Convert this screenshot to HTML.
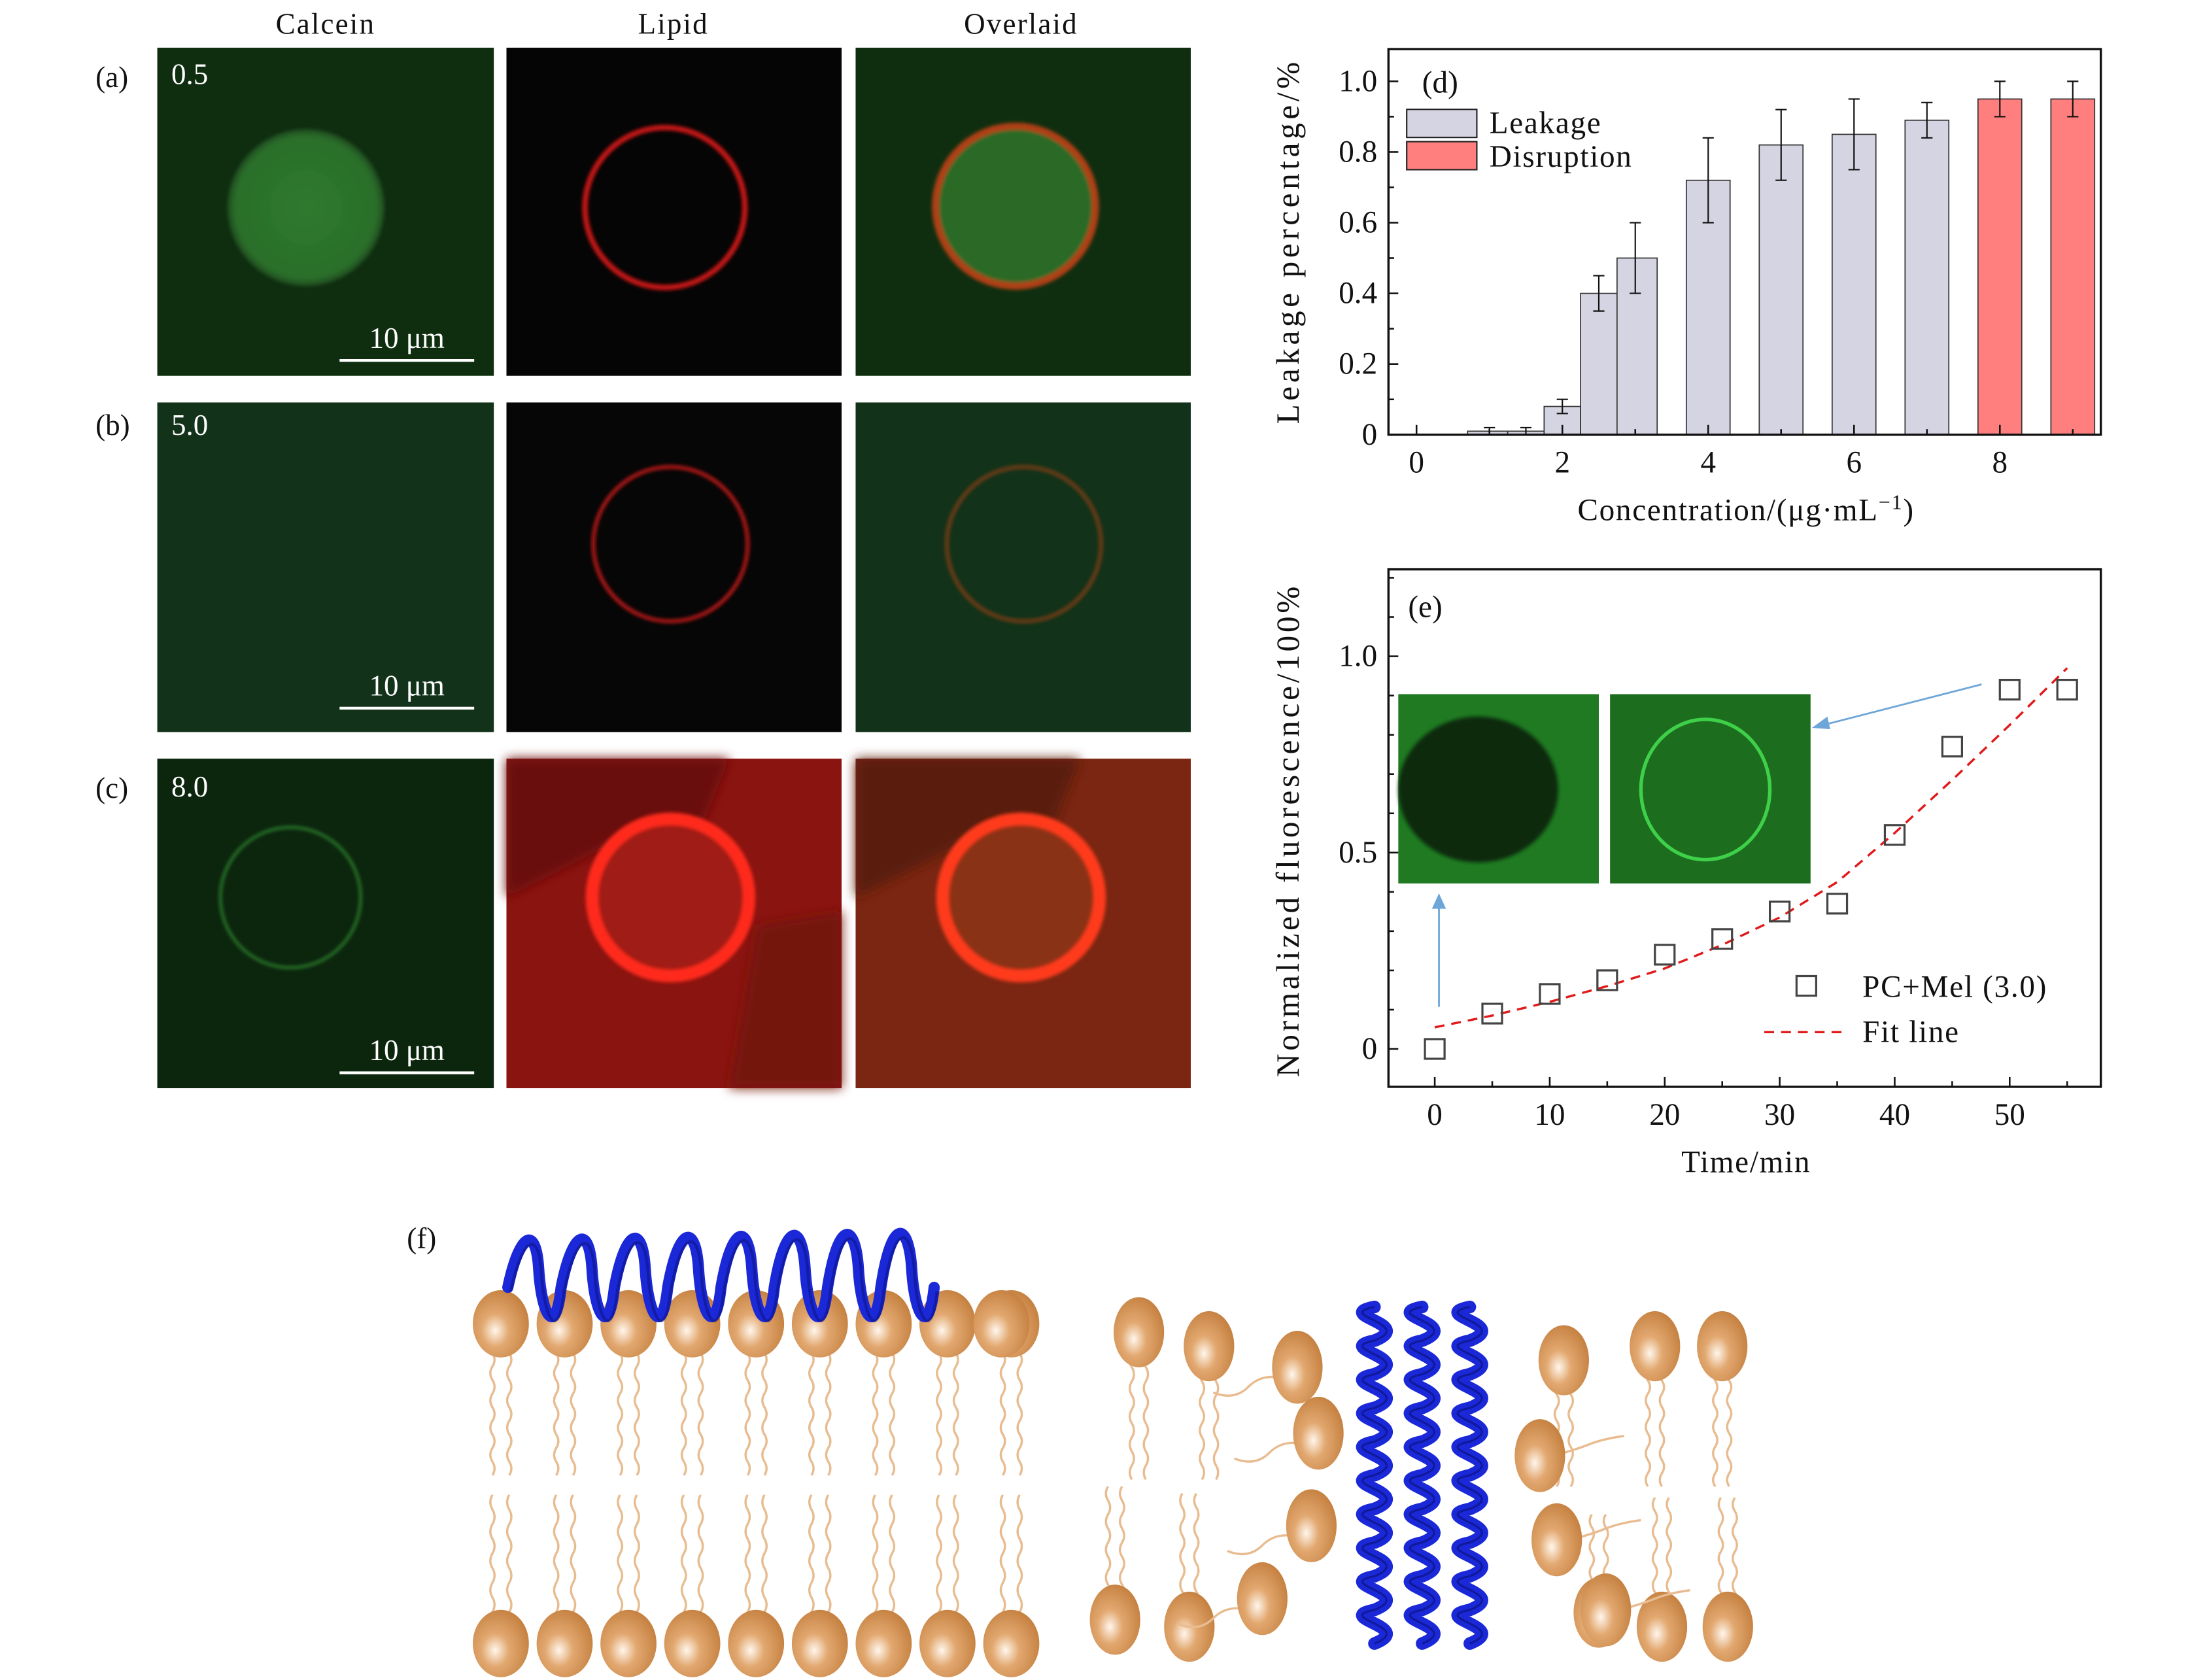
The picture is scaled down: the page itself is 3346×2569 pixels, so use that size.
<!DOCTYPE html>
<html><head><meta charset="utf-8">
<style>
html,body{margin:0;padding:0;background:#fff;}
svg{display:block;}
text{font-family:"Liberation Serif",serif;}
</style></head>
<body>
<svg id="fig" width="3346" height="2569" viewBox="0 0 1560 1198" xmlns="http://www.w3.org/2000/svg">
<defs>
<radialGradient id="head" cx="0.4" cy="0.6" r="0.7"><stop offset="0" stop-color="#fff6ec"/><stop offset="0.35" stop-color="#e2a870"/><stop offset="1" stop-color="#c07a38"/></radialGradient>
<radialGradient id="gdisc"><stop offset="0" stop-color="#2f7a2f"/><stop offset="0.9" stop-color="#2a6e2a"/><stop offset="1" stop-color="#1f4a1f"/></radialGradient>
<filter id="blur1"><feGaussianBlur stdDeviation="1.2"/></filter>
<filter id="blur4"><feGaussianBlur stdDeviation="4"/></filter>
</defs>

<g font-size="21" text-anchor="middle" fill="#111">
<text x="232" y="24" letter-spacing="1">Calcein</text>
<text x="480" y="24" letter-spacing="1">Lipid</text>
<text x="728" y="24" letter-spacing="1">Overlaid</text>
</g>
<g font-size="21" fill="#111">
<text x="68" y="62">(a)</text>
<text x="68" y="310">(b)</text>
<text x="68" y="569">(c)</text>
<text x="290" y="890">(f)</text>
</g>

<g>
<rect x="112" y="34" width="240" height="234" fill="#0f2e10"/>
<circle cx="218" cy="148" r="56" fill="url(#gdisc)" filter="url(#blur1)"/>
<rect x="361" y="34" width="239" height="234" fill="#050505"/>
<circle cx="474" cy="148" r="57" fill="none" stroke="#c41818" stroke-width="4" filter="url(#blur1)"/>
<rect x="610" y="34" width="239" height="234" fill="#0f2e10"/>
<circle cx="724" cy="147" r="57" fill="#2c6a28" stroke="#b04018" stroke-width="5" filter="url(#blur1)"/>
<text x="122" y="60" font-size="21" fill="#fff">0.5</text>
<line x1="242" y1="257" x2="338" y2="257" stroke="#fff" stroke-width="2"/>
<text x="290" y="248" font-size="21" fill="#fff" text-anchor="middle">10 μm</text>
</g>
<g>
<rect x="112" y="287" width="240" height="235" fill="#12321a"/>
<rect x="361" y="287" width="239" height="235" fill="#060606"/>
<circle cx="478" cy="388" r="55" fill="none" stroke="#a81414" stroke-width="3" filter="url(#blur1)"/>
<rect x="610" y="287" width="239" height="235" fill="#12321a"/>
<circle cx="730" cy="388" r="55" fill="none" stroke="#6a3a14" stroke-width="3" filter="url(#blur1)"/>
<text x="122" y="310" font-size="21" fill="#fff">5.0</text>
<line x1="242" y1="505" x2="338" y2="505" stroke="#fff" stroke-width="2"/>
<text x="290" y="496" font-size="21" fill="#fff" text-anchor="middle">10 μm</text>
</g>
<g>
<rect x="112" y="541" width="240" height="235" fill="#0c260e"/>
<circle cx="207" cy="640" r="50" fill="none" stroke="#2a7a2a" stroke-width="2" filter="url(#blur1)"/>
<rect x="361" y="541" width="239" height="235" fill="#8a1410"/>
<path d="M361 541 H520 L500 590 L440 600 L361 640 Z" fill="#6a0e0a" filter="url(#blur4)"/>
<path d="M540 660 L600 650 V776 H520 Z" fill="#741410" filter="url(#blur4)"/>
<circle cx="478" cy="640" r="56" fill="#a01a12" stroke="#ff2a1a" stroke-width="9" filter="url(#blur1)"/>
<rect x="610" y="541" width="239" height="235" fill="#7a2612"/>
<path d="M610 541 H770 L750 590 L690 600 L610 640 Z" fill="#5a1c0c" filter="url(#blur4)"/>
<circle cx="728" cy="640" r="56" fill="#8a3018" stroke="#ff3a1a" stroke-width="9" filter="url(#blur1)"/>
<text x="122" y="568" font-size="21" fill="#fff">8.0</text>
<line x1="242" y1="765" x2="338" y2="765" stroke="#fff" stroke-width="2"/>
<text x="290" y="756" font-size="21" fill="#fff" text-anchor="middle">10 μm</text>
</g>

<g id="chartD"></g>
<g id="chartE"></g>
<g id="cartoon"></g>
</svg>

<script>
// ---- chart (d) data ----
const dConc = [1, 1.5, 2, 2.5, 3, 4, 5, 6, 7, 8, 9];
const dLeak = [0.01, 0.01, 0.08, 0.40, 0.50, 0.72, 0.82, 0.85, 0.89, 0.95, 0.95];
const dErr  = [0.01, 0.01, 0.02, 0.05, 0.10, 0.12, 0.10, 0.10, 0.05, 0.05, 0.05];
const dType = ['Leakage','Leakage','Leakage','Leakage','Leakage','Leakage','Leakage','Leakage','Leakage','Disruption','Disruption'];
const dYTicks = [0, 0.2, 0.4, 0.6, 0.8, 1.0];
const dYLabels = ['0', '0.2', '0.4', '0.6', '0.8', '1.0'];
const dXTicks = [0, 2, 4, 6, 8];
const dXLabels = ['0', '2', '4', '6', '8'];

// ---- chart (e) data ----
const eTime = [0, 5, 10, 15, 20, 25, 30, 35, 40, 45, 50, 55];
const eFluor = [0, 0.09, 0.14, 0.175, 0.24, 0.28, 0.35, 0.37, 0.545, 0.77, 0.915, 0.915];
const eFitT = [0, 5, 10, 15, 20, 25, 30, 35, 40, 45, 50, 55];
const eFitV = [0.055, 0.085, 0.12, 0.16, 0.205, 0.265, 0.335, 0.425, 0.55, 0.685, 0.825, 0.97];
const eYTicks = [0, 0.5, 1.0];
const eYLabels = ['0', '0.5', '1.0'];
const eXTicks = [0, 10, 20, 30, 40, 50];
const eXLabels = ['0', '10', '20', '30', '40', '50'];

const NS = 'http://www.w3.org/2000/svg';
function mk(parent, tag, attrs, txt) {
  const e = document.createElementNS(NS, tag);
  for (const k in attrs) e.setAttribute(k, attrs[k]);
  if (txt !== undefined) e.textContent = txt;
  parent.appendChild(e);
  return e;
}
const FS = 22;

(function(){
  const g = document.getElementById('chartD');
  const L = 990, R = 1498, T = 35, B = 310;
  const xs = v => 1010 + v * 52;
  const ys = v => 310 - v * 252;
  for (let i = 0; i < dConc.length; i++) {
    const x = dConc[i];
    const prev = i > 0 ? dConc[i-1] : -10, next = i < dConc.length-1 ? dConc[i+1] : 100;
    const lft = (x - prev < 0.75) ? (prev + x) / 2 : x - 0.3;
    const rgt = (next - x < 0.75) ? (x + next) / 2 : x + 0.3;
    const r = mk(g, 'rect', {x: xs(lft), y: ys(dLeak[i]), width: xs(rgt) - xs(lft), height: ys(0) - ys(dLeak[i]),
      fill: dType[i] === 'Disruption' ? '#ff7f7f' : '#d4d4e2', stroke: '#333', 'stroke-width': 0.8});
    
    
    const cx = xs(x), y1 = ys(dLeak[i] + dErr[i]), y2 = ys(dLeak[i] - dErr[i]);
    const eb = mk(g, 'path', {d: `M${cx} ${y1}V${y2}M${cx-4} ${y1}H${cx+4}M${cx-4} ${y2}H${cx+4}`, stroke: '#111', 'stroke-width': 1, fill: 'none'});
    
    
  }
  const fr = mk(g, 'rect', {x: L, y: T, width: R-L, height: B-T, fill: 'none', stroke: '#111', 'stroke-width': 1.6});
  
  
  for (let k = 0; k <= 10; k++) {
    const v = k / 10, major = k % 2 === 0;
    mk(g, 'line', {x1: L, x2: L + (major ? 7 : 4), y1: ys(v), y2: ys(v), stroke: '#111', 'stroke-width': 1.2});
  }
  dYTicks.forEach((v, i) => {
    const t = mk(g, 'text', {x: L - 8, y: ys(v) + 7, 'font-size': FS, 'text-anchor': 'end', fill: '#111'}, dYLabels[i]);
    
    
  });
  for (let v = 0; v <= 9; v++) {
    const major = v % 2 === 0;
    mk(g, 'line', {x1: xs(v), x2: xs(v), y1: B, y2: B - (major ? 7 : 4), stroke: '#111', 'stroke-width': 1.2});
  }
  dXTicks.forEach((v, i) => {
    const t = mk(g, 'text', {x: xs(v), y: 337, 'font-size': FS, 'text-anchor': 'middle', fill: '#111'}, dXLabels[i]);
    
    
  });
  let t = mk(g, 'text', {x: 1245, y: 371, 'font-size': FS, 'text-anchor': 'middle', fill: '#111', 'letter-spacing': '0.8'}, 'Concentration/(μg·mL');
  mk(t, 'tspan', {dy: -8, 'font-size': 15}, '−1');
  mk(t, 'tspan', {dy: 8}, ')');
  
  
  t = mk(g, 'text', {x: 0, y: 0, 'font-size': 23, 'text-anchor': 'middle', fill: '#111', transform: 'translate(926,172) rotate(-90)', 'letter-spacing': '2.6'}, 'Leakage percentage/%');
  
  
  t = mk(g, 'text', {x: 1014, y: 66, 'font-size': FS, fill: '#111'}, '(d)');
  
  
  const lg = mk(g, 'g', {});
  
  
  mk(lg, 'rect', {x: 1003, y: 78, width: 50, height: 20, fill: '#d4d4e2', stroke: '#222', 'stroke-width': 1});
  mk(lg, 'text', {x: 1062, y: 95, 'font-size': FS, fill: '#111', 'letter-spacing': '0.8'}, 'Leakage');
  mk(lg, 'rect', {x: 1003, y: 101, width: 50, height: 20, fill: '#ff7f7f', stroke: '#222', 'stroke-width': 1});
  mk(lg, 'text', {x: 1062, y: 119, 'font-size': FS, fill: '#111', 'letter-spacing': '0.8'}, 'Disruption');
})();

(function(){
  const g = document.getElementById('chartE');
  const L = 990, R = 1498, T = 406, B = 775;
  const xs = v => 1023 + v * 8.2;
  const ys = v => 748 - v * 280;
  const ins = mk(g, 'g', {});
  
  
  mk(ins, 'rect', {x: 997, y: 495, width: 143, height: 135, fill: '#1f7a22'});
  mk(ins, 'ellipse', {cx: 1054, cy: 563, rx: 57, ry: 52, fill: '#0f2a10', filter: 'url(#blur1)'});
  mk(ins, 'rect', {x: 1148, y: 495, width: 143, height: 135, fill: '#1c6e1e'});
  mk(ins, 'ellipse', {cx: 1216, cy: 563, rx: 46, ry: 50, fill: 'none', stroke: '#3fd04a', 'stroke-width': 2.5});
  mk(g, 'line', {x1: 1413, y1: 488, x2: 1300, y2: 517, stroke: '#6fa6d8', 'stroke-width': 1.3});
  mk(g, 'path', {d: 'M1292 519 L1303 511 L1305 520 Z', fill: '#6fa6d8'});
  mk(g, 'line', {x1: 1026, y1: 718, x2: 1026, y2: 645, stroke: '#6fa6d8', 'stroke-width': 1.3});
  mk(g, 'path', {d: 'M1026 637 L1021 648 L1031 648 Z', fill: '#6fa6d8'});
  let d = '';
  eFitT.forEach((t, i) => { d += (i ? 'L' : 'M') + xs(t) + ' ' + ys(eFitV[i]); });
  const fl = mk(g, 'path', {d: d, fill: 'none', stroke: '#e01a1a', 'stroke-width': 1.6, 'stroke-dasharray': '7 5'});
  
  
  eTime.forEach((t, i) => {
    const p = mk(g, 'rect', {x: xs(t) - 7, y: ys(eFluor[i]) - 7, width: 14, height: 14, fill: 'none', stroke: '#444', 'stroke-width': 1.5});
    
    
  });
  const fr = mk(g, 'rect', {x: L, y: T, width: R-L, height: B-T, fill: 'none', stroke: '#111', 'stroke-width': 1.6});
  
  
  for (let k = 0; k <= 12; k++) {
    const v = k / 10, major = k % 5 === 0;
    mk(g, 'line', {x1: L, x2: L + (major ? 7 : 4), y1: ys(v), y2: ys(v), stroke: '#111', 'stroke-width': 1.2});
  }
  eYTicks.forEach((v, i) => {
    const t = mk(g, 'text', {x: L - 8, y: ys(v) + 7, 'font-size': FS, 'text-anchor': 'end', fill: '#111'}, eYLabels[i]);
    
    
  });
  for (let v = 0; v <= 55; v += 5) {
    const major = v % 10 === 0;
    mk(g, 'line', {x1: xs(v), x2: xs(v), y1: B, y2: B - (major ? 7 : 4), stroke: '#111', 'stroke-width': 1.2});
  }
  eXTicks.forEach((v, i) => {
    const t = mk(g, 'text', {x: xs(v), y: 802, 'font-size': FS, 'text-anchor': 'middle', fill: '#111'}, eXLabels[i]);
    
    
  });
  let t = mk(g, 'text', {x: 1245, y: 836, 'font-size': FS, 'text-anchor': 'middle', fill: '#111', 'letter-spacing': '0.8'}, 'Time/min');
  
  
  t = mk(g, 'text', {x: 0, y: 0, 'font-size': 23, 'text-anchor': 'middle', fill: '#111', transform: 'translate(926,592) rotate(-90)', 'letter-spacing': '2.2'}, 'Normalized fluorescence/100%');
  
  
  t = mk(g, 'text', {x: 1004, y: 440, 'font-size': FS, fill: '#111'}, '(e)');
  
  
  const lg = mk(g, 'g', {});
  
  
  mk(lg, 'rect', {x: 1281, y: 696, width: 14, height: 14, fill: 'none', stroke: '#444', 'stroke-width': 1.5});
  mk(lg, 'text', {x: 1328, y: 711, 'font-size': FS, fill: '#111', 'letter-spacing': '0.8'}, 'PC+Mel (3.0)');
  mk(lg, 'line', {x1: 1258, x2: 1318, y1: 736, y2: 736, stroke: '#e01a1a', 'stroke-width': 1.6, 'stroke-dasharray': '7 5'});
  mk(lg, 'text', {x: 1328, y: 743, 'font-size': FS, fill: '#111', 'letter-spacing': '0.8'}, 'Fit line');
})();

(function(){
  const g = document.getElementById('cartoon');
  function wavy(x, y1, y2, amp) {
    let d = `M${x} ${y1}`;
    const n = Math.round(Math.abs(y2 - y1) / 10), dy = (y2 - y1) / n;
    for (let i = 0; i < n; i++) d += ` Q${x + (i % 2 ? amp : -amp)} ${y1 + dy*(i+0.5)} ${x} ${y1 + dy*(i+1)}`;
    return d;
  }
  function tail(x, y1, y2) {
    mk(g, 'path', {d: wavy(x, y1, y2, 3), fill: 'none', stroke: '#e8bc90', 'stroke-width': 1.6});
  }
  function head(x, y, rx, ry, rot) {
    mk(g, 'ellipse', {cx: x, cy: y, rx: rx || 20, ry: ry || 24, fill: 'url(#head)', transform: rot ? `rotate(${rot} ${x} ${y})` : ''});
  }
  for (let i = 0; i < 9; i++) {
    const x = 357 + i * 45.5;
    tail(x - 6, 955, 1052); tail(x + 6, 955, 1052);
    tail(x - 6, 1066, 1160); tail(x + 6, 1066, 1160);
  }
  for (let i = 0; i < 9; i++) { head(357 + i * 45.5, 944); head(357 + i * 45.5, 1172); }
  head(714, 944);
  let hd = 'M362 918';
  for (let i = 0; i < 8; i++) {
    const x0 = 362 + i * 38;
    hd += ` C${x0+8} ${880 - i*2} ${x0+20} ${872} ${x0+22} ${905} S${x0+34} ${955} ${x0+38} ${918}`;
  }
  mk(g, 'path', {d: hd, fill: 'none', stroke: '#1a28d8', 'stroke-width': 8, 'stroke-linecap': 'round'});
  mk(g, 'path', {d: hd, fill: 'none', stroke: '#0a1070', 'stroke-width': 2, opacity: 0.5, transform: 'translate(2,3)'});
  const rl = [[812,950,0,1055],[862,960,0,1055],[1180,960,0,1060],[1228,960,0,1060],[1115,970,0,1060],
              [795,1155,1,1060],[848,1160,1,1065],[1185,1160,1,1068],[1232,1160,1,1068],[1140,1150,1,1080]];
  rl.forEach(([x,y,bot,end]) => {
    if (!bot) { tail(x-5, y+15, end); tail(x+5, y+15, end); }
    else { tail(x-5, end, y-15); tail(x+5, end, y-15); }
    head(x, y, 18, 25);
  });
  [[925,975],[940,1022],[935,1088],[900,1140]].forEach(([x,y]) => {
    mk(g, 'path', {d: `M${x-10} ${y+8} q-15 -4 -25 6 t-25 4`, fill: 'none', stroke: '#e8bc90', 'stroke-width': 1.6});
    head(x, y, 18, 26);
  });
  [[1098,1038],[1110,1098],[1145,1148]].forEach(([x,y]) => {
    mk(g, 'path', {d: `M${x+10} ${y} q15 -4 25 -8 t25 -6`, fill: 'none', stroke: '#e8bc90', 'stroke-width': 1.6});
    head(x, y, 18, 26);
  });
  [980, 1014, 1048].forEach((x) => {
    let d = `M${x} 932`;
    for (let i = 0; i < 10; i++) {
      const y0 = 932 + i * 24;
      d += ` C${x-30} ${y0+6} ${x+30} ${y0+12} ${x} ${y0+24}`;
    }
    mk(g, 'path', {d: d, fill: 'none', stroke: '#1a28d8', 'stroke-width': 9, 'stroke-linecap': 'round'});
    mk(g, 'path', {d: d, fill: 'none', stroke: '#0a1070', 'stroke-width': 1.5, opacity: 0.6});
  });
})();
</script>
</body></html>
